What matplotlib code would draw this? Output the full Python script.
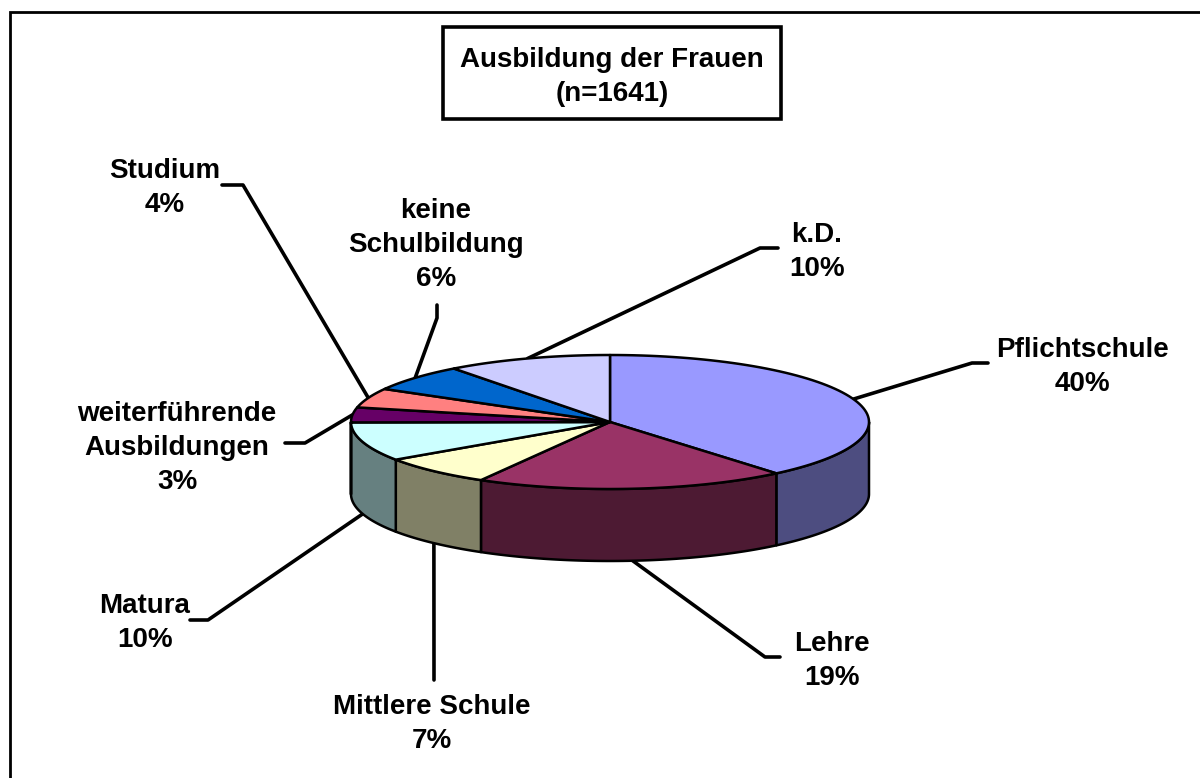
import numpy as np
import matplotlib
matplotlib.use("Agg")
import matplotlib.pyplot as plt
from matplotlib.patches import Polygon, Rectangle

title = "Ausbildung der Frauen\n(n=1641)"
labels = ["Pflichtschule", "Lehre", "Mittlere Schule", "Matura",
          "weiterführende\nAusbildungen", "Studium", "keine\nSchulbildung", "k.D."]
values = [40, 19, 7, 10, 3, 4, 6, 10]
# slice sizes as drawn (the labels are rounded)
shares = [38.9, 19.4, 7.2, 9.4, 3.6, 4.7, 6.5, 10.3]
top_colors = ["#9999FF", "#993366", "#FFFFCC", "#CCFFFF",
              "#660066", "#FF8080", "#0066CC", "#CCCCFF"]
side_colors = ["#4D4D80", "#4D1A33", "#808066", "#668080",
               "#330033", "#804040", "#003366", "#666680"]

# pie geometry in pixels
cx, cy = 610, 422
rx, ry = 259, 67
depth = 72

# label centres and leader elbows, same order as labels
label_pos = [(1082, 367), (832, 661), (432, 724), (145, 623),
             (177, 448), (165, 188), (436, 245), (817, 252)]
leaders = [[(972, 363), (988, 363)], [(765, 657), (780, 657)],
           [(434, 680)], [(208, 620), (190, 620)],
           [(305, 443), (285, 443)], [(243, 185), (222, 185)],
           [(437, 318), (437, 305)], [(760, 248), (778, 248)]]
on_side = [False, True, True, True, False, False, False, False]


def rim(deg, down=0):
    # angle runs clockwise from the top of the pie
    t = np.radians(deg)
    return np.column_stack([cx + rx * np.sin(t), cy - ry * np.cos(t) + down])


fig = plt.figure(figsize=(12, 7.78), dpi=100)
ax = fig.add_axes([0, 0, 1, 1])
ax.set_xlim(0, 1200)
ax.set_ylim(778, 0)
ax.axis("off")

# chart frame, cut off at the right and bottom of the picture
ax.plot([10, 10, 1200], [778, 12, 12], color="black", lw=2.0, solid_joinstyle="miter")

edges = np.cumsum([0] + shares) / sum(shares) * 360

# side walls, only the front half of the pie shows
for i in range(len(shares)):
    a = max(edges[i], 90)
    b = min(edges[i + 1], 270)
    if b <= a:
        continue
    ang = np.linspace(a, b, 80)
    pts = np.vstack([rim(ang), rim(ang[::-1], depth)])
    ax.add_patch(Polygon(pts, fc=side_colors[i], ec="black", lw=1.8, joinstyle="round"))

# top face
for i in range(len(shares)):
    ang = np.linspace(edges[i], edges[i + 1], 80)
    pts = np.vstack([[cx, cy], rim(ang)])
    ax.add_patch(Polygon(pts, fc=top_colors[i], ec="black", lw=1.8, joinstyle="round"))

font = dict(family="Liberation Sans", weight="bold", fontsize=20, color="black",
            ha="center", va="center", linespacing=1.41)

for i, name in enumerate(labels):
    mid = (edges[i] + edges[i + 1]) / 2
    start = rim(mid, depth if on_side[i] else 0)[0]
    pts = np.array([start] + leaders[i])
    ax.plot(pts[:, 0], pts[:, 1], color="black", lw=2.6, solid_capstyle="round", zorder=0.5)
    ax.text(label_pos[i][0], label_pos[i][1], f"{name}\n{values[i]}%", **font)

ax.add_patch(Rectangle((443, 27), 338, 92, fc="white", ec="black", lw=2.6, zorder=3))
ax.text(612, 77, title, zorder=4, **font)

fig.savefig("out.png", dpi=100)
